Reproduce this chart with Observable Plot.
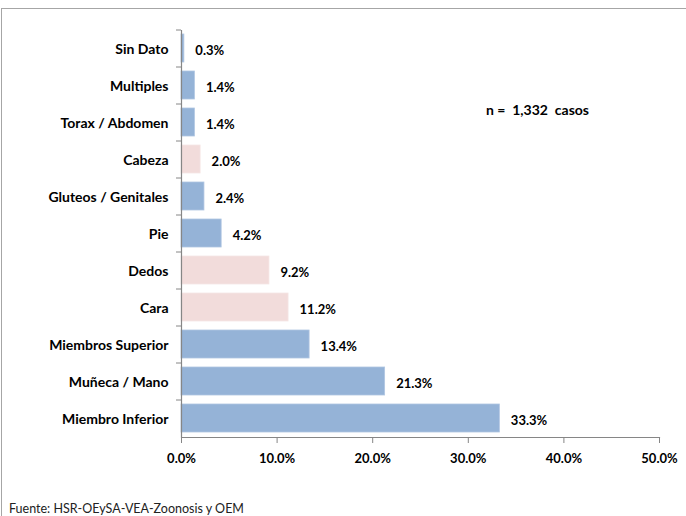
<!DOCTYPE html>
<html><head><meta charset="utf-8">
<script src="https://cdn.jsdelivr.net/npm/d3@7"></script>
<script src="https://cdn.jsdelivr.net/npm/@observablehq/plot@0.6"></script>
<style>
body{margin:0;background:#fff;}
#wrap{position:relative;width:686px;height:516px;overflow:hidden;font-family:Lato,"Liberation Sans",sans-serif;}
#frame{position:absolute;left:1px;top:8px;width:700px;height:520px;border-left:1.5px solid #a6a6a6;border-top:1.5px solid #a6a6a6;}
#chart{position:absolute;left:0;top:0;}
#note{position:absolute;left:486px;top:101px;font-weight:bold;font-size:14px;color:#000;}
#caption{position:absolute;left:9px;top:501px;font-size:12.5px;color:#222;}
</style></head>
<body><div id="wrap"><div id="frame"></div><div id="chart"></div>
<div id="note">n =&nbsp; 1,332&nbsp; casos</div>
<div id="caption">Fuente: HSR-OEySA-VEA-Zoonosis y OEM</div></div>
<script>
const categories = ["Sin Dato","Multiples","Torax / Abdomen","Cabeza","Gluteos / Genitales","Pie","Dedos","Cara","Miembros Superior","Muñeca / Mano","Miembro Inferior"];
const values = [0.3,1.4,1.4,2.0,2.4,4.2,9.2,11.2,13.4,21.3,33.3];
const highlighted = ["Cabeza","Dedos","Cara"];
const xTicks = [0,10,20,30,40,50];

const data = categories.map((c,i)=>({cat:c, v:values[i], hl: highlighted.includes(c)}));
const fmt = d => d.toFixed(1) + "%";

const chart = Plot.plot({
  width: 686, height: 496,
  marginLeft: 181, marginRight: 27, marginTop: 30, marginBottom: 59,
  style: {fontFamily: 'Lato,"Liberation Sans",sans-serif', fontWeight: "bold", fontSize: "13px", color: "#000", background: "transparent"},
  x: {domain: [0,50]},
  y: {domain: categories, paddingInner: 0.24, paddingOuter: 0.12},
  marks: [
    Plot.barX(data, {x: "v", y: "cat", fill: d => d.hl ? "#f2dcdb" : "#95b3d7", stroke: d => d.hl ? "#f5e6e5" : "#b0c6e2", strokeWidth: 0.8}),
    Plot.text(data, {x: "v", y: "cat", text: d => fmt(d.v), textAnchor: "start", dx: 11, dy: 2, fontSize: 13, fontWeight: "bold", fill: "#000"}),
    Plot.ruleX([0], {stroke: "#868686", strokeWidth: 1.2}),
    Plot.frame({anchor: "bottom", stroke: "#868686", strokeWidth: 1.2}),
    Plot.axisX({ticks: xTicks, tickFormat: fmt, tickSize: 6, tickPadding: 10, stroke: "#868686", label: null, fontSize: 13, fill: "#000"}),
    Plot.axisY({tickSize: 0, tickPadding: 13, label: null, fontSize: 14, dy: 1.5, fill: "#000"}),
    Plot.axisY({tickSize: 5, tickFormat: () => "", label: null, dy: -18.5, stroke: "#868686"})
  ]
});
document.getElementById("chart").appendChild(chart);
</script></body></html>
